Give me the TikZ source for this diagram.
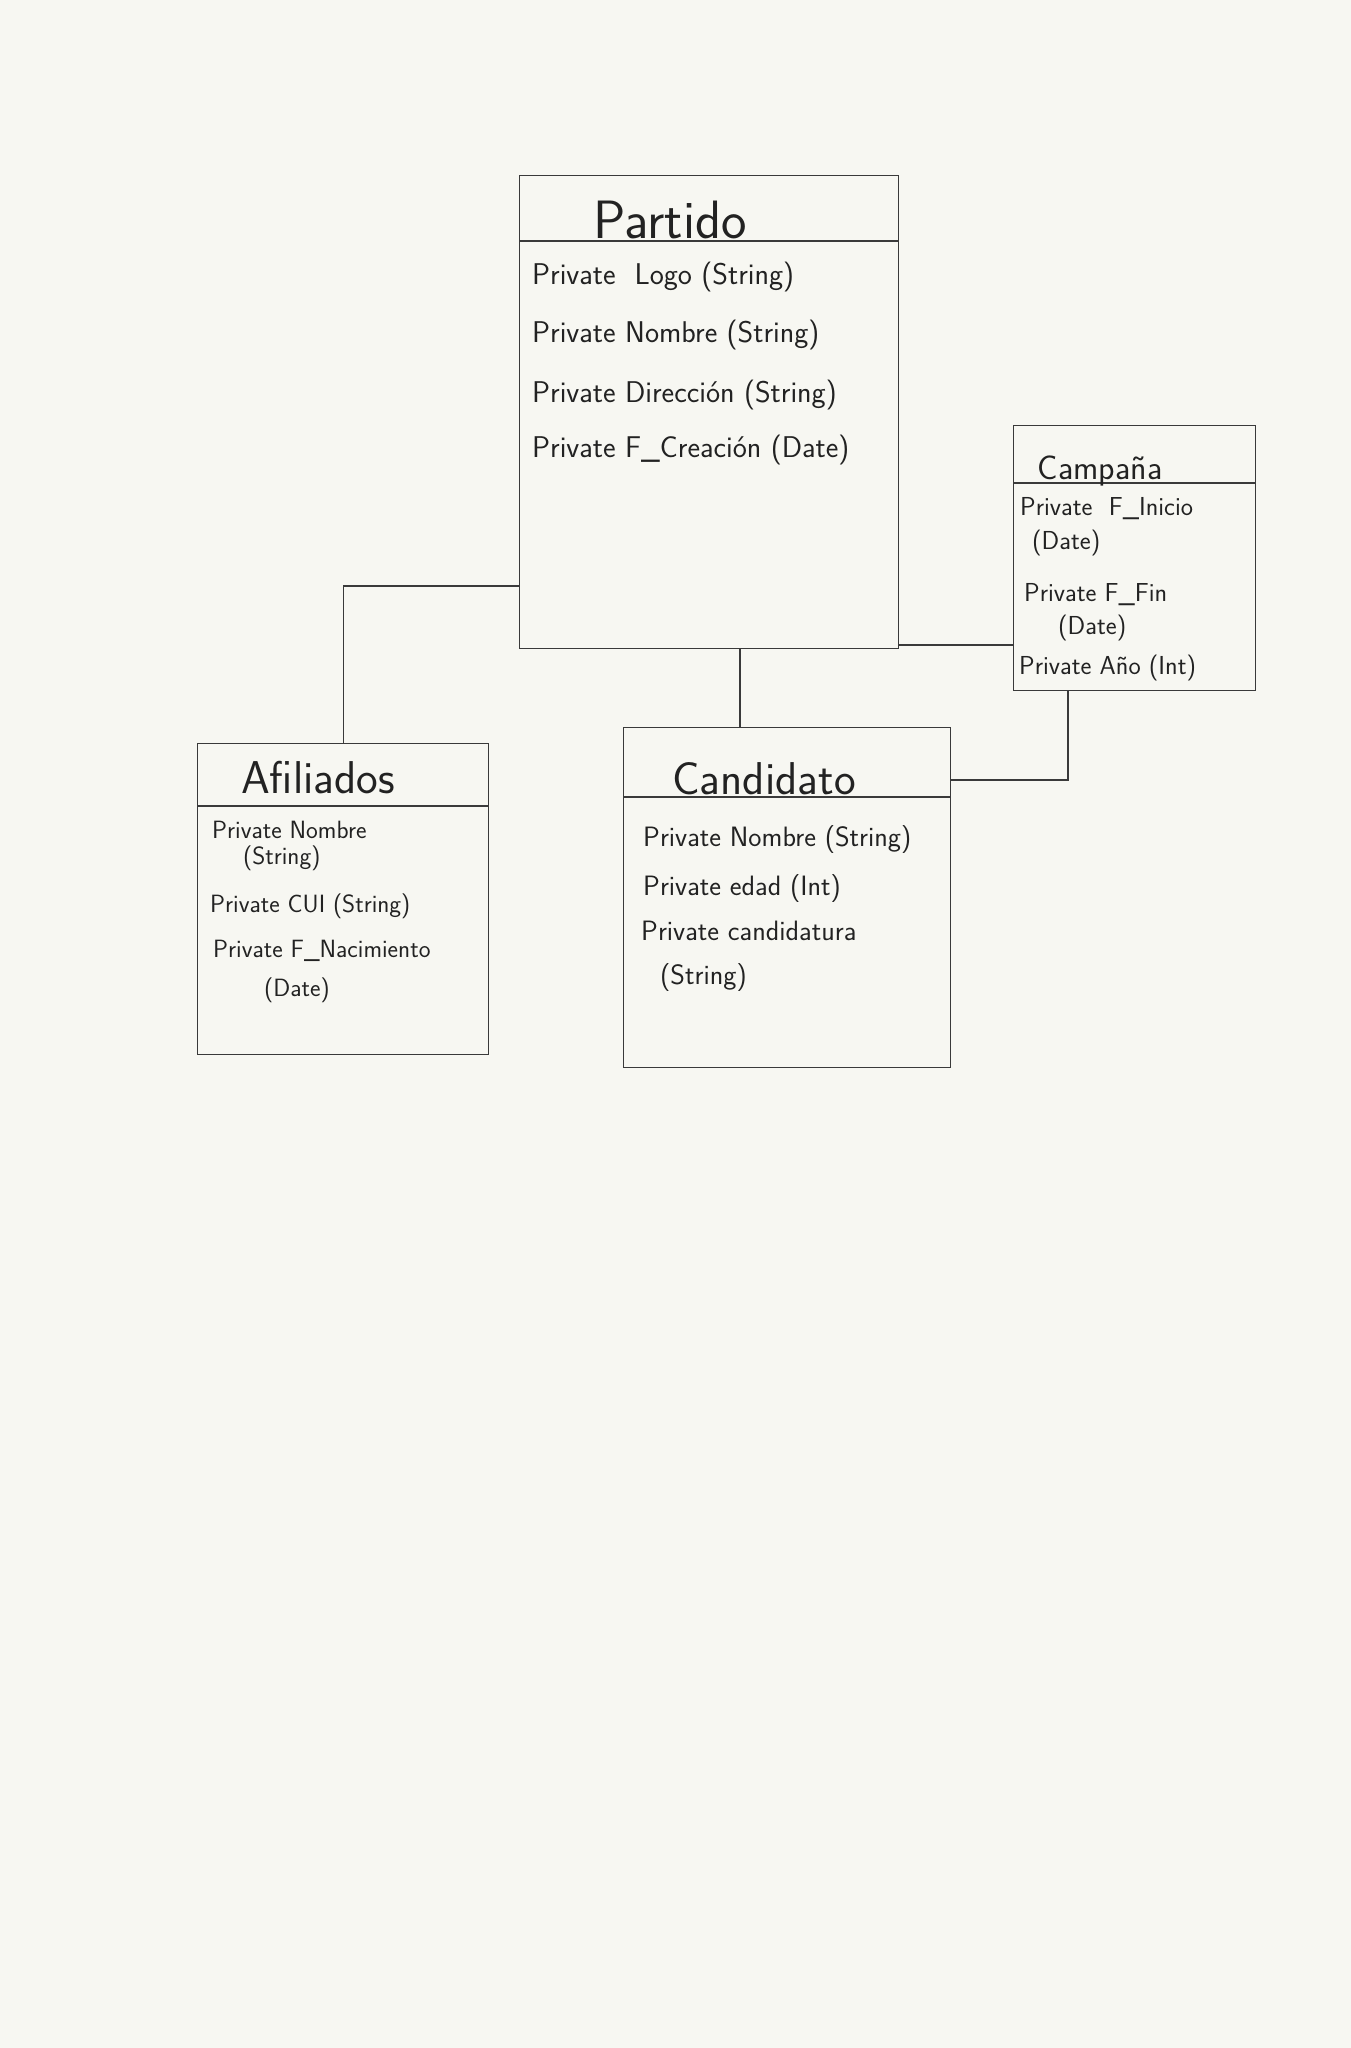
\documentclass[tikz,border=0pt]{standalone}
\usepackage{fontspec}
\begin{document}
\begin{tikzpicture}[x=1pt,y=-1pt,
  box/.style={draw=linec, line width=1.2pt, inner sep=0pt, anchor=north west},
  conn/.style={draw=linec, line width=1.2pt},
  ttl/.style={anchor=base, text=inkc, font=\sffamily\fontsize{#1}{#1}\selectfont\addfontfeature{LetterSpace=6}, inner sep=0pt},
  attr/.style={anchor=base west, text=inkc, font=\sffamily\fontsize{#1}{#1}\selectfont\addfontfeature{LetterSpace=9}, inner sep=0pt},
  attrw/.style={anchor=base west, text=inkc, font=\sffamily\fontsize{#1}{#1}\selectfont\addfontfeature{LetterSpace=16}, inner sep=0pt}]
\definecolor{bgc}{HTML}{F7F7F2}
\definecolor{linec}{HTML}{3A3A3A}
\definecolor{inkc}{HTML}{222222}
\fill[bgc] (0,0) rectangle (1351,2048);
\useasboundingbox (0,0) rectangle (1351,2048);

% boxes
\node[box, minimum width=379pt, minimum height=473pt] (partido) at (519,175) {};
\node[box, minimum width=291pt, minimum height=311pt] (afiliados) at (197,743) {};
\node[box, minimum width=327pt, minimum height=340pt] (candidato) at (623,727) {};
\node[box, minimum width=242pt, minimum height=265pt] (campana) at (1013,425) {};

% dividers
\draw[conn] (partido.west |- 0,241) -- (partido.east |- 0,241);
\draw[conn] (afiliados.west |- 0,806) -- (afiliados.east |- 0,806);
\draw[conn] (candidato.west |- 0,797) -- (candidato.east |- 0,797);
\draw[conn] (campana.west |- 0,483) -- (campana.east |- 0,483);

% titles
\node[ttl=54] (tpartido) at (670,238) {Partido};
\node[ttl=46] (tafiliados) at (318,793) {Afiliados};
\node[ttl=46] (tcandidato) at (764,794) {Candidato};
\node[ttl=34] (tcampana) at (1100,479) {Campaña};

% Partido attributes
\node[attr=30] (p1) at (532,284) {Private\ \ Logo (String)};
\node[attr=30] (p2) at (532,342) {Private Nombre (String)};
\node[attr=30] (p3) at (532,402) {Private Dirección (String)};
\node[attr=30] (p4) at (532,457) {Private F\_Creación (Date)};

% Campana attributes
\node[attr=26] (c1) at (1020,515) {Private\ \ F\_Inicio};
\node[attr=26] (c2) at (1032,549) {(Date)};
\node[attr=26] (c3) at (1024,601) {Private F\_Fin};
\node[attr=26] (c4) at (1058,634) {(Date)};
\node[attr=26] (c5) at (1019,674) {Private Año (Int)};

% Afiliados attributes
\node[attrw=25] (a1) at (212,838) {Private Nombre};
\node[attrw=25] (a2) at (243,864) {(String)};
\node[attrw=25] (a3) at (210,912) {Private CUI (String)};
\node[attrw=25] (a4) at (213,957) {Private F\_Nacimiento};
\node[attrw=25] (a5) at (264,996) {(Date)};

% Candidato attributes
\node[attr=28] (k1) at (643,846) {Private Nombre (String)};
\node[attr=28] (k2) at (643,895) {Private edad (Int)};
\node[attr=28] (k3) at (641,940) {Private candidatura};
\node[attr=28] (k4) at (660,984) {(String)};

% connector helpers
\coordinate (pa) at (346,586);
\coordinate (pc) at (740,0);
\coordinate (pcam) at (0,645);
\coordinate (cc) at (1068,780);

% connectors
\draw[conn] (partido.west |- pa) -| (afiliados.north);
\draw[conn] (partido.south -| pc) -- (candidato.north -| pc);
\draw[conn] (partido.east |- pcam) -- (campana.west |- pcam);
\draw[conn] (candidato.east |- cc) -| (campana.south -| cc);
\end{tikzpicture}
\end{document}
